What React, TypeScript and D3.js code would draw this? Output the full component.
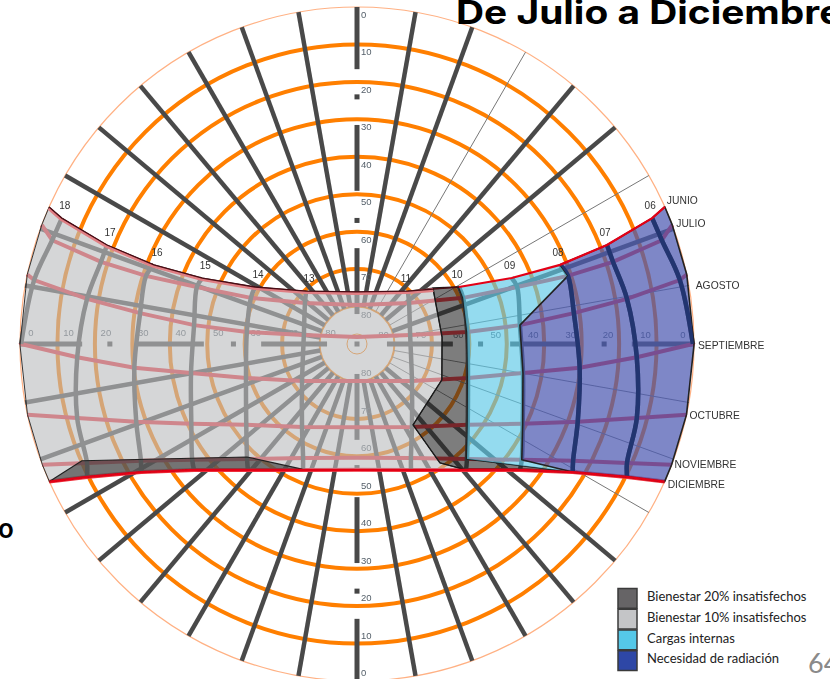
import React, { useEffect, useRef } from 'react';
import * as d3 from 'd3';

const W = 830;
const H = 679;

// Sun path readings. Columns: sunrise, 06, 07, 08, 09, 10, 11, 12 (solar time)
const juneAz = [66, 66.9, 68.4, 68.7, 66.9, 60.8, 43.9, 0];
const juneAlt = [0, 4.3, 18.2, 31.8, 45.1, 58.8, 70.4, 76.1];
const julyAz = [69.3, 71.2, 72.2, 72.1, 70.4, 66.5, 51.7, 0];
const julyAlt = [0, 4, 18.2, 30.8, 44.6, 59.1, 72.3, 79.6];
const augAz = [78.1, 78.8, 80.5, 81.9, 83.4, 83.8, 80.4, 0];
const augAlt = [0, 2.1, 16.9, 31.5, 46.2, 60.4, 75.6, 88.1];
const sepAz = [90.2, 90, 92.7, 96.1, 99.9, 107, 124, 180];
const sepAlt = [0, 0.3, 15.2, 30.2, 45, 59, 72.3, 80.1];
const octAz = [102.1, null, 104.8, 109.4, 115.7, 126.1, 146.5, 180];
const octAlt = [0, null, 12.7, 27.5, 40.9, 53.4, 63.4, 67.8];
const novAz = [111, null, 113.8, 118.4, 125.1, 136.3, 154.7, 180];
const novAlt = [0, null, 11.2, 24.4, 36.2, 47.5, 56.3, 59.6];
const decAz = [114.1, null, 116.2, 120.7, 127.7, 139.1, 156.8, 180];
const decAlt = [0, null, 9.6, 23, 35, 45.5, 53.4, 56.4];

const monthAz = [juneAz, julyAz, augAz, sepAz, octAz, novAz, decAz];
const monthAlt = [juneAlt, julyAlt, augAlt, sepAlt, octAlt, novAlt, decAlt];
const monthNames = ['JUNIO', 'JULIO', 'AGOSTO', 'SEPTIEMBRE', 'OCTUBRE', 'NOVIEMBRE', 'DICIEMBRE'];
const morningHours = ['06', '07', '08', '09', '10', '11'];
const afternoonHours = ['18', '17', '16', '15', '14', '13'];

// edge of the 20% comfort zone (az, alt) between the grid lines
const comfortEdgeAz = [53.6, 85.3, 112.9, 145.3, 145.1];
const comfortEdgeAlt = [64.8, 67.2, 65.4, 63.7, 51.3];
// dark sliver on the afternoon side
const sliverAz = [-113, -135.8, -156.3];
const sliverAlt = [10.2, 47.9, 53.5];

const altitudeRings = [10, 20, 30, 40, 50, 60, 70];
const altitudeLabels = [0, 10, 20, 30, 40, 50, 60, 70, 80];
const thickAzimuths = [10, 20, 40, 50, 70, 130, 140, 150, 160, 170, -10, -20, -30, -40, -50, -60, -70, -80, -100, -110, -120, -130, -140, -150, -160, -170];
const thinAzimuths = [30, 60, 80, 100, 110, 120];
const axisAzimuths = [0, 90, 180, -90];
const axisSegments = [[0, 16.6], [31.5, 49.1], [64.4, 82]];
const axisDots = [24, 57];

const legendItems = ['Bienestar 20% insatisfechos', 'Bienestar 10% insatisfechos', 'Cargas internas', 'Necesidad de radiación'];
const legendColors = ['#666466', '#c4c5c7', '#55c8e8', '#2e47a6'];

const App = () => {
  const svgRef = useRef<SVGSVGElement>(null);

  useEffect(() => {
    const svg = d3.select(svgRef.current);
    svg.selectAll('*').remove();

    const cx = 357;
    const cy = 344;
    const r = d3.scaleLinear().domain([0, 90]).range([337, 0]);

    const project = (az: number, alt: number): [number, number] => {
      const a = (az * Math.PI) / 180;
      return [cx + r(alt) * Math.sin(a), cy - r(alt) * Math.cos(a)];
    };
    // month m, column c, side 1 = morning, -1 = afternoon
    const grid = (m: number, c: number, side = 1) => project(side * (monthAz[m][c] as number), monthAlt[m][c] as number);
    const poly = d3.line().curve(d3.curveLinearClosed);
    const polyline = d3.line();
    const smooth = d3.line().curve(d3.curveCatmullRom);

    const defs = svg.append('defs');
    defs.append('filter').attr('id', 'soft').attr('filterUnits', 'userSpaceOnUse')
      .attr('x', 0).attr('y', 0).attr('width', W).attr('height', H)
      .append('feGaussianBlur').attr('stdDeviation', 0.55);

    svg.append('rect').attr('width', W).attr('height', H).attr('fill', '#fff');

    const chart = svg.append('g').attr('filter', 'url(#soft)');
    const labelFont = 'Liberation Sans, Arial, sans-serif';

    // rings
    chart.append('circle').attr('cx', cx).attr('cy', cy).attr('r', r(0))
      .attr('fill', 'none').attr('stroke', '#ffb184').attr('stroke-width', 1.2);
    chart.selectAll('.ring').data(altitudeRings).join('circle')
      .attr('cx', cx).attr('cy', cy).attr('r', d => r(d))
      .attr('fill', 'none').attr('stroke', '#ff7f00').attr('stroke-width', 4);
    chart.append('circle').attr('cx', cx).attr('cy', cy).attr('r', r(80))
      .attr('fill', 'none').attr('stroke', '#ff7f00').attr('stroke-width', 2);
    chart.append('circle').attr('cx', cx).attr('cy', cy).attr('r', 10)
      .attr('fill', 'none').attr('stroke', '#ff7f00').attr('stroke-width', 1);

    // azimuth rays
    const ray = (az: number, a0: number, a1: number) => polyline([project(az, a0), project(az, a1)]);
    chart.selectAll('.thin').data(thinAzimuths).join('path')
      .attr('d', d => ray(d, 0, 80)).attr('stroke', '#777').attr('stroke-width', 1).attr('fill', 'none');
    chart.selectAll('.thick').data(thickAzimuths).join('path')
      .attr('d', d => ray(d, 0, 80)).attr('stroke', '#4a4a4a').attr('stroke-width', 4.5).attr('fill', 'none');

    axisAzimuths.forEach(az => {
      axisSegments.forEach(s => {
        chart.append('path').attr('d', ray(az, s[0], s[1])).attr('stroke', '#4a4a4a').attr('stroke-width', 5).attr('fill', 'none');
      });
      axisDots.forEach(a => {
        const [x, y] = project(az, a);
        chart.append('rect').attr('x', x - 2.5).attr('y', y - 2.5).attr('width', 5).attr('height', 5).attr('fill', '#444');
      });
    });
    chart.append('rect').attr('x', cx - 2.5).attr('y', cy - 2.5).attr('width', 5).attr('height', 5).attr('fill', '#444');

    // altitude labels along the axes
    const altText = (x: number, y: number, t: number, anchor = 'middle') =>
      chart.append('text').attr('x', x).attr('y', y).attr('text-anchor', anchor)
        .attr('font-family', labelFont).attr('font-size', 9.5).attr('fill', '#55606a').text(t);
    altitudeLabels.forEach(a => {
      altText(cx - r(a) + 11, 336, a);
      altText(cx + r(a) - 11, 338, a);
      altText(361, cy - r(a) + 11, a, 'start');
      altText(361, cy + r(a) - 5, a, 'start');
    });

    // month lines, June stays out of the base on the afternoon side
    const monthPoints = (m: number) => {
      const cols = d3.range(0, 8).filter(c => monthAz[m][c] !== null);
      const morning = cols.slice().reverse().map(c => grid(m, c, 1));
      const afternoon = cols.slice(0, -1).map(c => grid(m, c, -1));
      return afternoon.concat(morning);
    };
    monthNames.forEach((_, m) => {
      if (m === 0) return;
      chart.append('path').attr('d', polyline(monthPoints(m)))
        .attr('fill', 'none').attr('stroke', '#ee2f3a').attr('stroke-width', 4);
    });

    // hour lines
    const hourColumns = [1, 2, 3, 4, 5, 6];
    const hourPoints = (c: number, side: number) =>
      d3.range(0, 7).filter(m => monthAz[m][c] !== null).map(m => grid(m, c, side));
    const hourLine = (c: number, side: number) => smooth(hourPoints(c, side));
    hourColumns.forEach(c => {
      [1, -1].forEach(side => {
        chart.append('path').attr('d', hourLine(c, side))
          .attr('fill', 'none').attr('stroke', '#4a4a4a').attr('stroke-width', 4.5);
      });
    });

    // zones
    const edge = comfortEdgeAz.map((az, i) => project(az, comfortEdgeAlt[i]));
    const rimMorning = d3.range(0, 7).map(m => grid(m, 0, 1));
    const rimAfternoon = d3.range(0, 7).map(m => grid(m, 0, -1));

    const juneAfternoon = [0, 1, 2, 3, 4, 5, 6].map(c => grid(0, c, -1));
    const decAfternoonBack = [6, 5, 4, 3, 2, 0].map(c => grid(6, c, -1));
    const lightZone = [
      ...juneAfternoon,
      grid(0, 7),
      grid(0, 6),
      ...edge,
      grid(6, 5),
      grid(6, 6),
      grid(6, 7),
      ...decAfternoonBack,
      ...rimAfternoon.slice(1, 6).reverse(),
    ];
    const darkZone = [
      edge[0],
      grid(0, 5), grid(1, 5), grid(2, 5), grid(3, 5), grid(4, 5), grid(5, 5),
      grid(6, 3), grid(6, 4), grid(6, 5),
      edge[4], edge[3], edge[2], edge[1],
    ];
    const sliver = [
      grid(6, 0, -1),
      ...sliverAz.map((az, i) => project(az, sliverAlt[i])),
      grid(6, 6, -1), grid(6, 5, -1), grid(6, 4, -1), grid(6, 3, -1), grid(6, 2, -1),
    ];
    const cyanZone = [
      grid(0, 5), grid(1, 5), grid(2, 5), grid(3, 5), grid(4, 5), grid(5, 5),
      grid(6, 3),
      grid(5, 4), grid(4, 4), grid(3, 4), grid(2, 4), grid(1, 3), grid(0, 3), grid(0, 4),
    ];
    const blueZone = [
      grid(0, 3), grid(1, 3), grid(2, 4), grid(3, 4), grid(4, 4), grid(5, 4),
      grid(6, 3), grid(6, 2),
      ...rimMorning.slice().reverse(),
      grid(0, 1), grid(0, 2),
    ];

    const zone = (pts: [number, number][], fill: string, alpha: number, stroke: string, sw: number) =>
      chart.append('path').attr('d', poly(pts))
        .attr('fill', fill).attr('fill-opacity', alpha)
        .attr('stroke', stroke).attr('stroke-width', sw).attr('stroke-linejoin', 'round');

    zone(lightZone, '#bcbdbf', 0.62, '#333', 1);
    zone(sliver, '#222', 0.55, '#222', 1.2);
    zone(darkZone, '#222', 0.58, '#1a1a1a', 1.4);
    zone(cyanZone, '#5ac8e6', 0.65, 'none', 0);
    zone(blueZone, 'rgb(77,90,178)', 0.73, '#222', 1.6);

    // hour lines read navy through the radiation zone
    defs.append('clipPath').attr('id', 'blue-clip').append('path').attr('d', poly(blueZone));
    const navy = chart.append('g').attr('clip-path', 'url(#blue-clip)');
    [1, 2, 3].forEach(c => {
      navy.append('path').attr('d', hourLine(c, 1))
        .attr('fill', 'none').attr('stroke', '#24346f').attr('stroke-width', 4.5);
    });

    // June: a pink band inside the comfort zone under a thin dark edge, red in the morning
    const june = monthPoints(0);
    const juneSplit = june.length - 6; // sunrise, 06, 07, 08, 09, 10 stay red
    defs.append('clipPath').attr('id', 'light-clip').append('path').attr('d', poly(lightZone));
    chart.append('g').attr('clip-path', 'url(#light-clip)').append('path')
      .attr('d', polyline(june)).attr('fill', 'none').attr('stroke', '#e07f84').attr('stroke-width', 6);
    chart.append('path').attr('d', polyline(june.slice(0, juneSplit + 1)))
      .attr('fill', 'none').attr('stroke', '#4a0a12').attr('stroke-width', 1.3);
    chart.append('path').attr('d', polyline(june.slice(juneSplit)))
      .attr('fill', 'none').attr('stroke', '#e30016').attr('stroke-width', 2.2);

    // December stays red
    chart.append('path').attr('d', polyline(monthPoints(6)))
      .attr('fill', 'none').attr('stroke', '#e30016').attr('stroke-width', 2.2);

    // month and hour labels
    const monthLabelShift = [[2, -3], [4, 2], [9, 14], [4, 4], [3, 4], [3, 3], [3, 6]];
    monthNames.forEach((name, m) => {
      const [x, y] = grid(m, 0, 1);
      chart.append('text').attr('x', x + monthLabelShift[m][0]).attr('y', y + monthLabelShift[m][1])
        .attr('font-family', labelFont).attr('font-size', 10.3).attr('fill', '#333').text(name);
    });
    morningHours.forEach((h, i) => {
      const [x, y] = grid(0, i + 1, 1);
      chart.append('text').attr('x', x - 2).attr('y', y - 9).attr('text-anchor', 'middle')
        .attr('font-family', labelFont).attr('font-size', 10).attr('fill', '#333').text(h);
    });
    afternoonHours.forEach((h, i) => {
      const [x, y] = grid(0, i + 1, -1);
      chart.append('text').attr('x', x + 3).attr('y', y - 9).attr('text-anchor', 'middle')
        .attr('font-family', labelFont).attr('font-size', 10).attr('fill', '#333').text(h);
    });

    // slide text
    svg.append('text').attr('transform', 'translate(456,24) scale(1.215,1)')
      .attr('font-family', 'Inter, sans-serif').attr('font-weight', 700).attr('font-size', 32).attr('fill', '#000')
      .text('De Julio a Diciembre');
    svg.append('text').attr('x', -2).attr('y', 538)
      .attr('font-family', 'Inter, sans-serif').attr('font-weight', 600).attr('font-size', 26).attr('fill', '#000')
      .text('o');
    svg.append('text').attr('x', 808).attr('y', 673)
      .attr('font-family', 'Lato, sans-serif').attr('font-size', 27).attr('fill', '#8a8a8a')
      .text('64');

    // legend
    const legendY = d3.scaleBand<number>().domain(d3.range(0, 4)).range([588, 671]);
    const legend = svg.selectAll('.legend').data(legendItems).join('g');
    legend.append('rect')
      .attr('x', 618).attr('y', (_, i) => (legendY(i) as number) + 0.5)
      .attr('width', 19).attr('height', legendY.bandwidth() - 1)
      .attr('fill', (_, i) => legendColors[i]).attr('stroke', '#3a3a3a').attr('stroke-width', 1.5);
    legend.append('text')
      .attr('x', 647).attr('y', (_, i) => (legendY(i) as number) + 13)
      .attr('font-family', 'Lato, sans-serif').attr('font-size', 13).attr('fill', '#222')
      .text(d => d);
  }, []);

  return (
    <svg
      ref={svgRef}
      width={W}
      height={H}
      style={{ position: 'fixed', left: 0, top: 0, display: 'block' }}
    ></svg>
  );
};

export default App;
